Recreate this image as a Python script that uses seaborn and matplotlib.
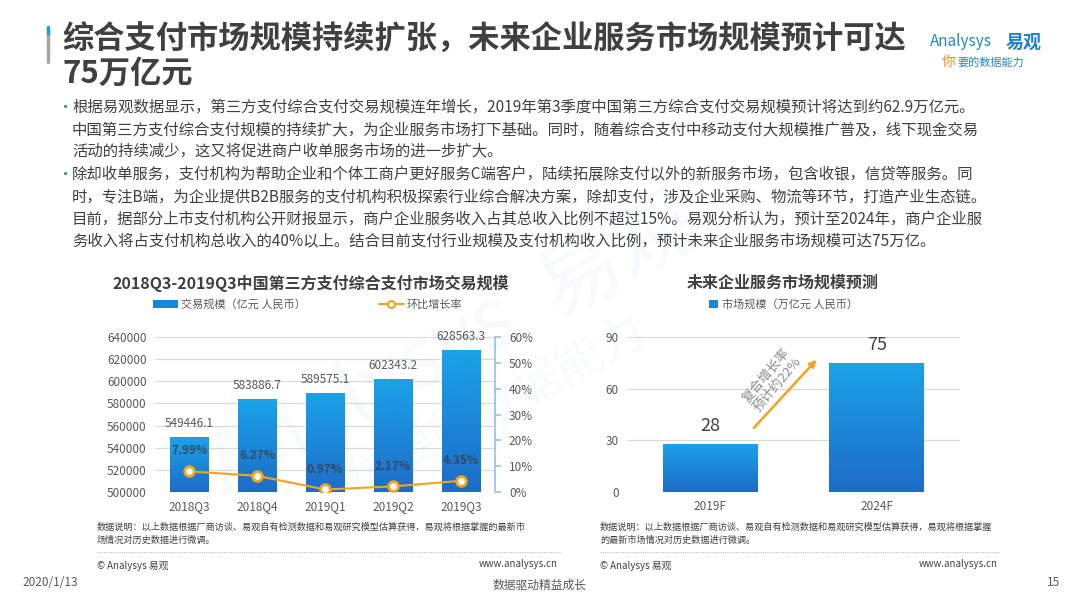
import numpy as np
import matplotlib
matplotlib.use("Agg")
import matplotlib.pyplot as plt
import seaborn as sns
from matplotlib.lines import Line2D
from matplotlib.patches import Patch

# data
quarters = ["2018Q3", "2018Q4", "2019Q1", "2019Q2", "2019Q3"]
volume = [549446.1, 583886.7, 589575.1, 602343.2, 628563.3]
growth = [7.99, 6.27, 0.97, 2.17, 4.35]

years = ["2019F", "2024F"]
market = [28, 75]

sns.set_theme(style="white")
plt.rcParams["font.family"] = ["Noto Sans CJK SC", "DejaVu Sans"]

TXT = "#404040"
GREY = "#595959"
ORANGE = "#f5a31a"
TOP_BLUE = np.array([0x1a, 0xa3, 0xe8]) / 255
BOT_BLUE = np.array([0x1e, 0x6c, 0xc8]) / 255


def gradient_bars(ax):
    # paint each bar with a vertical gradient, clipped to the visible part
    grad = np.linspace(0, 1, 64)[:, None, None]
    img = BOT_BLUE * (1 - grad) + TOP_BLUE * grad
    ylo = ax.get_ylim()[0]
    for p in list(ax.patches):
        x0, w = p.get_x(), p.get_width()
        y0 = max(p.get_y(), ylo)
        y1 = p.get_y() + p.get_height()
        p.set_y(y0)
        p.set_height(y1 - y0)
        im = ax.imshow(img, extent=[x0, x0 + w, y0, y1], origin="lower",
                       aspect="auto", zorder=p.get_zorder())
        im.set_clip_path(p)
        p.set_facecolor("none")
        p.set_edgecolor("none")


fig = plt.figure(figsize=(10.8, 6.08), dpi=100)

# ---- header ----
fig.add_artist(Line2D([48 / 1080, 48 / 1080], [1 - 27 / 608, 1 - 36 / 608], color="#1e9be0", lw=2.5))
fig.add_artist(Line2D([48 / 1080, 48 / 1080], [1 - 36 / 608, 1 - 62 / 608], color="#a6a6a6", lw=2.5))
fig.text(62 / 1080, 1 - 40 / 608, "综合支付市场规模持续扩张，未来企业服务市场规模预计可达",
         fontsize=22.5, fontweight="bold", color=TXT, va="center")
fig.text(62 / 1080, 1 - 74 / 608, "75万亿元", fontsize=22.5, fontweight="bold", color=TXT, va="center")
fig.text(930 / 1080, 1 - 42 / 608, "Analysys", fontsize=11, color="#1f87d2", va="center", style="italic")
fig.text(1006 / 1080, 1 - 42 / 608, "易观", fontsize=13, color="#1f7fd0", fontweight="bold", va="center")
fig.text(942 / 1080, 1 - 62 / 608, "你", fontsize=10, color="#f08c1e", va="center", style="italic")
fig.text(957 / 1080, 1 - 62 / 608, "要的数据能力", fontsize=8, color="#1f87d2", va="center", style="italic")

lines = [
    "根据易观数据显示，第三方支付综合支付交易规模连年增长，2019年第3季度中国第三方综合支付交易规模预计将达到约62.9万亿元。",
    "中国第三方支付综合支付规模的持续扩大，为企业服务市场打下基础。同时，随着综合支付中移动支付大规模推广普及，线下现金交易",
    "活动的持续减少，这又将促进商户收单服务市场的进一步扩大。",
    "除却收单服务，支付机构为帮助企业和个体工商户更好服务C端客户，陆续拓展除支付以外的新服务市场，包含收银，信贷等服务。同",
    "时，专注B端，为企业提供B2B服务的支付机构积极探索行业综合解决方案，除却支付，涉及企业采购、物流等环节，打造产业生态链。",
    "目前，据部分上市支付机构公开财报显示，商户企业服务收入占其总收入比例不超过15%。易观分析认为，预计至2024年，商户企业服",
    "务收入将占支付机构总收入的40%以上。结合目前支付行业规模及支付机构收入比例，预计未来企业服务市场规模可达75万亿。",
]
for i, ln in enumerate(lines):
    y = 1 - (107 + i * 22.5) / 608
    fig.text(72 / 1080, y, ln, fontsize=11.1, color=TXT, va="center")
    if i in (0, 3):
        fig.text(58 / 1080, y, "•", fontsize=11, color="#2e75b6", va="center")

# watermark
fig.text(0.42, 0.43, "Analysys  易观", fontsize=60, color="#1e90d8", alpha=0.035,
         rotation=28, ha="center", va="center", style="italic")
fig.text(0.46, 0.33, "你要的数据能力", fontsize=34, color="#1e90d8", alpha=0.035,
         rotation=28, ha="center", va="center")

# ---- left chart ----
ax = fig.add_axes([155 / 1080, 1 - 492 / 608, 340 / 1080, 155 / 608])
sns.barplot(x=quarters, y=volume, ax=ax, width=0.57, color="#1787d8")
ax.set_ylim(500000, 640000)
ax.set_yticks(np.arange(500000, 640001, 20000))
ax.set_yticklabels([f"{v:d}" for v in range(500000, 640001, 20000)])
ax.yaxis.grid(True, color="#d9d9d9", lw=0.8)
ax.set_axisbelow(True)
for s in ax.spines.values():
    s.set_visible(False)
ax.tick_params(axis="both", length=0, labelsize=8.5, labelcolor=GREY, pad=6)
ax.set_xlabel("")
ax.set_ylabel("")
gradient_bars(ax)
for i, v in enumerate(volume):
    ax.annotate(f"{v:.1f}", (i, v), xytext=(0, 5), textcoords="offset points",
                ha="center", va="bottom", fontsize=8.5, color=GREY, annotation_clip=False)
ax.set_xlim(-0.5, 4.5)
ax.set_ylim(500000, 640000)

ax2 = ax.twinx()
sns.pointplot(x=quarters, y=growth, ax=ax2, color=ORANGE, markers="o",
              markersize=7, linewidth=1.5, markerfacecolor="white",
              markeredgewidth=2, markeredgecolor=ORANGE)
if ax2.get_legend() is not None:
    ax2.get_legend().remove()
ax2.set_ylim(0, 60)
ax2.set_yticks(np.arange(0, 61, 10))
ax2.set_yticklabels([f"{v}%" for v in range(0, 61, 10)])
for k, s in ax2.spines.items():
    s.set_visible(k == "right")
ax2.spines["right"].set_color("#9dc3e6")
ax2.tick_params(axis="y", length=4, color="#9dc3e6", labelsize=8.5, labelcolor=GREY, pad=6)
ax2.set_xlabel("")
ax2.set_ylabel("")
ax2.grid(False)
ax2.set_xlim(-0.5, 4.5)
for i, g in enumerate(growth):
    ax2.annotate(f"{g:.2f}%", (i, g), xytext=(0, 10), textcoords="offset points",
                 ha="center", va="bottom", fontsize=8.5, fontweight="bold",
                 color="#3a3a3a", alpha=0.75)

fig.text(311 / 1080, 1 - 283 / 608, "2018Q3-2019Q3中国第三方支付综合支付市场交易规模",
         fontsize=11.5, fontweight="bold", color=TXT, ha="center", va="center")
handles = [Patch(facecolor="#1787d8", edgecolor="none"),
           Line2D([], [], color=ORANGE, lw=1.5, marker="o", markersize=5,
                  markerfacecolor="white", markeredgecolor=ORANGE, markeredgewidth=1.5)]
ax.legend(handles, ["交易规模（亿元 人民币）", "环比增长率"], ncol=2, frameon=False,
          loc="center left", bbox_to_anchor=(-0.035, 1.21), fontsize=8,
          labelcolor=GREY, columnspacing=6.6, handlelength=2.2, handletextpad=0.3)

# ---- right chart ----
bx = fig.add_axes([627 / 1080, 1 - 492 / 608, 333 / 1080, 155 / 608])
sns.barplot(x=years, y=market, ax=bx, width=0.57, color="#1787d8")
bx.set_ylim(0, 90)
bx.set_yticks([0, 30, 60, 90])
bx.yaxis.grid(True, color="#d9d9d9", lw=0.8)
bx.set_axisbelow(True)
for s in bx.spines.values():
    s.set_visible(False)
bx.tick_params(axis="both", length=0, labelsize=8.5, labelcolor=GREY, pad=6)
bx.set_xlabel("")
bx.set_ylabel("")
gradient_bars(bx)
for i, v in enumerate(market):
    bx.annotate(f"{v}", (i, v), xytext=(0, 6), textcoords="offset points",
                ha="center", va="bottom", fontsize=13, color=TXT, annotation_clip=False)
bx.set_xlim(-0.5, 1.5)
bx.set_ylim(0, 90)
bx.annotate("", xy=(0.65, 78), xytext=(0.25, 36),
            arrowprops=dict(arrowstyle="-|>", color=ORANGE, lw=1.8, mutation_scale=10))
bx.text(0.37, 65, "复合增长率\n预计约22%", rotation=50, ha="center", va="center",
        fontsize=9.5, color="#8c8c8c", linespacing=1.15)

fig.text(783 / 1080, 1 - 283 / 608, "未来企业服务市场规模预测",
         fontsize=11.5, fontweight="bold", color=TXT, ha="center", va="center")
bx.legend([Patch(facecolor="#1787d8", edgecolor="none")], ["市场规模（万亿元 人民币）"],
          frameon=False, loc="center", bbox_to_anchor=(0.47, 1.21), fontsize=8,
          labelcolor=GREY, handlelength=0.8, handleheight=0.8, handletextpad=0.4)

# ---- footnotes ----
note = "数据说明：以上数据根据厂商访谈、易观自有检测数据和易观研究模型估算获得，易观将根据掌握的最新市"
fig.text(97 / 1080, 1 - 527 / 608, note, fontsize=6.6, color=TXT, va="center")
fig.text(97 / 1080, 1 - 540 / 608, "场情况对历史数据进行微调。", fontsize=6.6, color=TXT, va="center")
fig.text(600 / 1080, 1 - 527 / 608,
         "数据说明：以上数据根据厂商访谈、易观自有检测数据和易观研究模型估算获得，易观将根据掌握",
         fontsize=6.6, color=TXT, va="center")
fig.text(600 / 1080, 1 - 540 / 608, "的最新市场情况对历史数据进行微调。", fontsize=6.6, color=TXT, va="center")
for x0, x1 in [(97, 560), (600, 1000)]:
    fig.add_artist(Line2D([x0 / 1080, x1 / 1080], [1 - 552 / 608] * 2, color="#bfbfbf",
                          lw=0.8, ls=(0, (1, 1))))
fig.text(97 / 1080, 1 - 566 / 608, "© Analysys 易观", fontsize=7, color=TXT, va="center")
fig.text(558 / 1080, 1 - 564 / 608, "www.analysys.cn", fontsize=7, color=TXT, va="center", ha="right")
fig.text(600 / 1080, 1 - 566 / 608, "© Analysys 易观", fontsize=7, color=TXT, va="center")
fig.text(998 / 1080, 1 - 564 / 608, "www.analysys.cn", fontsize=7, color=TXT, va="center", ha="right")

fig.text(22 / 1080, 1 - 583 / 608, "2020/1/13", fontsize=8.5, color=GREY, va="center")
fig.text(540 / 1080, 1 - 585 / 608, "数据驱动精益成长", fontsize=8.5, color=GREY, va="center", ha="center")
fig.text(1060 / 1080, 1 - 583 / 608, "15", fontsize=8.5, color=GREY, va="center", ha="right")

fig.savefig("out.png", dpi=100)
